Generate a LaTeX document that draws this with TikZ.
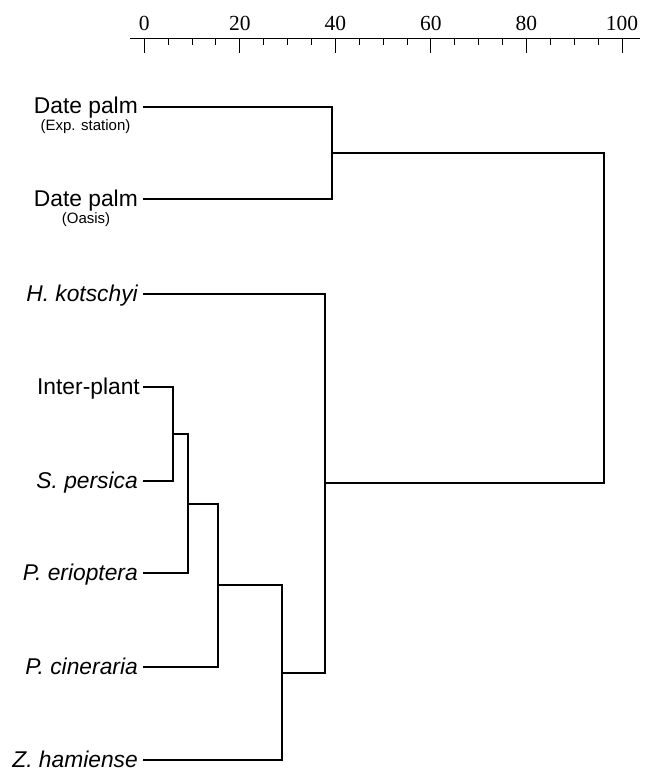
\documentclass[tikz,border=0pt]{standalone}
\usepackage{fontspec}
\setmainfont{Liberation Serif}
\newfontfamily\labfont{Liberation Sans}
\begin{document}
\begin{tikzpicture}[x=1pt,y=-1pt,
  leaf/.style={anchor=base east,inner sep=0pt,font=\labfont\fontsize{22.8}{24}\selectfont},
  leafit/.style={leaf,font=\labfont\itshape\fontsize{22.8}{24}\selectfont},
  sublab/.style={anchor=base,inner sep=0pt,font=\labfont\fontsize{15}{16}\selectfont},
  num/.style={anchor=base,inner sep=0pt,font=\fontsize{21.5}{22}\selectfont},
  branch/.style={line width=1.9pt},
  axisline/.style={line width=1pt}]
\useasboundingbox (0,0) rectangle (646,771);
% axis
\draw[axisline] (130,38) -- (640,38);
\foreach \k in {0,...,20}{
  \pgfmathsetmacro{\xx}{144.3+4.777*5*\k}
  \draw[axisline] (\xx,38) -- (\xx,45);
}
\foreach \v in {0,20,40,60,80,100}{
  \pgfmathsetmacro{\xx}{144.3+4.777*\v}
  \draw[axisline] (\xx,38) -- (\xx,53);
  \node[num] (t\v) at (\xx,30) {\v};
}
% leaf labels
\node[leaf] (ldp1) at (138,113) {Date palm};
\node[sublab] (sdp1) at (85.5,130) {(Exp. station)};
\node[leaf] (ldp2) at (138,206) {Date palm};
\node[sublab] (sdp2) at (86,223) {(Oasis)};
\node[leafit] (lhk) at (138,301) {H. kotschyi};
\node[leaf] (lip) at (140,394.5) {Inter-plant};
\node[leafit] (lsp) at (138,488) {S. persica};
\node[leafit] (lpe) at (138,580) {P. erioptera};
\node[leafit] (lpc) at (138,674) {P. cineraria};
\node[leafit] (lzh) at (138,767) {Z. hamiense};
% leaf ends
\coordinate (dp1) at (143,107);
\coordinate (dp2) at (143,199);
\coordinate (hk) at (143,294);
\coordinate (ip) at (143,387);
\coordinate (sp) at (143,481);
\coordinate (pe) at (143,573);
\coordinate (pc) at (143,667);
\coordinate (zh) at (143,760);
% joins
\coordinate (n1) at (332,153);
\coordinate (n2) at (173,434);
\coordinate (n3) at (188,504);
\coordinate (n4) at (218,585);
\coordinate (n5) at (282,673);
\coordinate (n6) at (325,483);
\coordinate (n7) at (604,318);
% branches
\draw[branch] (dp1) -| (n1) |- (dp2);
\draw[branch] (ip) -| (n2) |- (sp);
\draw[branch] (n2) -| (n3) |- (pe);
\draw[branch] (n3) -| (n4) |- (pc);
\draw[branch] (n4) -| (n5) |- (zh);
\draw[branch] (hk) -| (n6) |- (n5);
\draw[branch] (n1) -| (n7) |- (n6);
\end{tikzpicture}
\end{document}
